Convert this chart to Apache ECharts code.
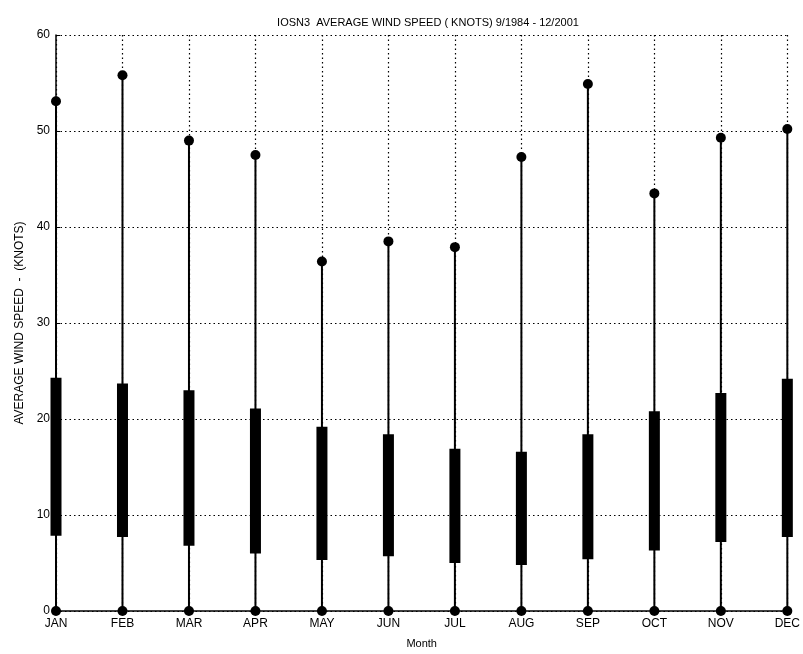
<!DOCTYPE html>
<html>
<head>
<meta charset="utf-8">
<script src="https://cdn.jsdelivr.net/npm/echarts@6/dist/echarts.min.js"></script>
<style>html,body{margin:0;padding:0;background:#fff;}#c{width:803px;height:654px;}</style>
</head>
<body>
<div id="c"></div>
<script>
const months = ['JAN','FEB','MAR','APR','MAY','JUN','JUL','AUG','SEP','OCT','NOV','DEC'];
const maxSpeed = [53.1, 55.8, 49.0, 47.5, 36.4, 38.5, 37.9, 47.3, 54.9, 43.5, 49.3, 50.2];
const minSpeed = [0, 0, 0, 0, 0, 0, 0, 0, 0, 0, 0, 0];
const bandHigh = [24.3, 23.7, 23.0, 21.1, 19.2, 18.4, 16.9, 16.6, 18.4, 20.8, 22.7, 24.2];
const bandLow  = [7.85, 7.7, 6.8, 6.0, 5.3, 5.7, 5.0, 4.8, 5.4, 6.3, 7.2, 7.7];
const yTicks = [0, 10, 20, 30, 40, 50, 60];

const data = months.map((m, i) => [i, minSpeed[i], bandLow[i], bandHigh[i], maxSpeed[i]]);
const font = 'Liberation Sans, Arial, sans-serif';

const chart = echarts.init(document.getElementById('c'), null, {renderer: 'canvas'});
chart.setOption({
  animation: false,
  backgroundColor: '#fff',
  title: {
    text: 'IOSN3  AVERAGE WIND SPEED ( KNOTS) 9/1984 - 12/2001',
    left: 423, textAlign: 'center', top: 12,
    textStyle: {fontSize: 11, fontWeight: 'normal', color: '#000', fontFamily: font}
  },
  grid: {left: 56, right: 14, top: 35, bottom: 42.5},
  xAxis: {
    type: 'category', data: months, boundaryGap: false,
    name: 'Month', nameLocation: 'middle', nameGap: 27,
    nameTextStyle: {fontSize: 11, color: '#000', fontFamily: font},
    axisLine: {lineStyle: {color: '#000', width: 1.5}},
    axisTick: {show: true, inside: true, length: 4, lineStyle: {color: '#000'}},
    axisLabel: {color: '#000', fontSize: 12, fontFamily: font, margin: 7, interval: 0},
    splitLine: {show: true, interval: 0, lineStyle: {color: '#000', type: [1.5, 3], width: 1.2}}
  },
  yAxis: {
    type: 'value', min: yTicks[0], max: yTicks[yTicks.length-1], interval: 10,
    name: 'AVERAGE WIND SPEED  -  (KNOTS)', nameLocation: 'middle', nameGap: 26,
    nameTextStyle: {fontSize: 12, color: '#000', fontFamily: font},
    axisLine: {show: true, lineStyle: {color: '#000', width: 1.5}},
    axisTick: {show: true, inside: true, length: 4, lineStyle: {color: '#000'}},
    axisLabel: {color: '#000', fontSize: 12, fontFamily: font, margin: 6},
    splitLine: {show: true, lineStyle: {color: '#000', type: [1.5, 3], width: 1.2}}
  },
  series: [{
    type: 'custom',
    data: data,
    encode: {x: 0, y: [1, 2, 3, 4]},
    renderItem: function (params, api) {
      const x = api.value(0);
      const pMin = api.coord([x, api.value(1)]);
      const pLow = api.coord([x, api.value(2)]);
      const pHigh = api.coord([x, api.value(3)]);
      const pMax = api.coord([x, api.value(4)]);
      const w = 11;
      return {
        type: 'group',
        children: [
          {type: 'line', shape: {x1: pMin[0], y1: pMin[1], x2: pMax[0], y2: pMax[1]},
           style: {stroke: '#000', lineWidth: 2}},
          {type: 'rect', shape: {x: pLow[0] - w/2, y: pHigh[1], width: w, height: pLow[1] - pHigh[1]},
           style: {fill: '#000'}},
          {type: 'circle', shape: {cx: pMax[0], cy: pMax[1], r: 5}, style: {fill: '#000'}},
          {type: 'circle', shape: {cx: pMin[0], cy: pMin[1], r: 5}, style: {fill: '#000'}}
        ]
      };
    },
    clip: false,
    z: 5
  }]
});
</script>
</body>
</html>
